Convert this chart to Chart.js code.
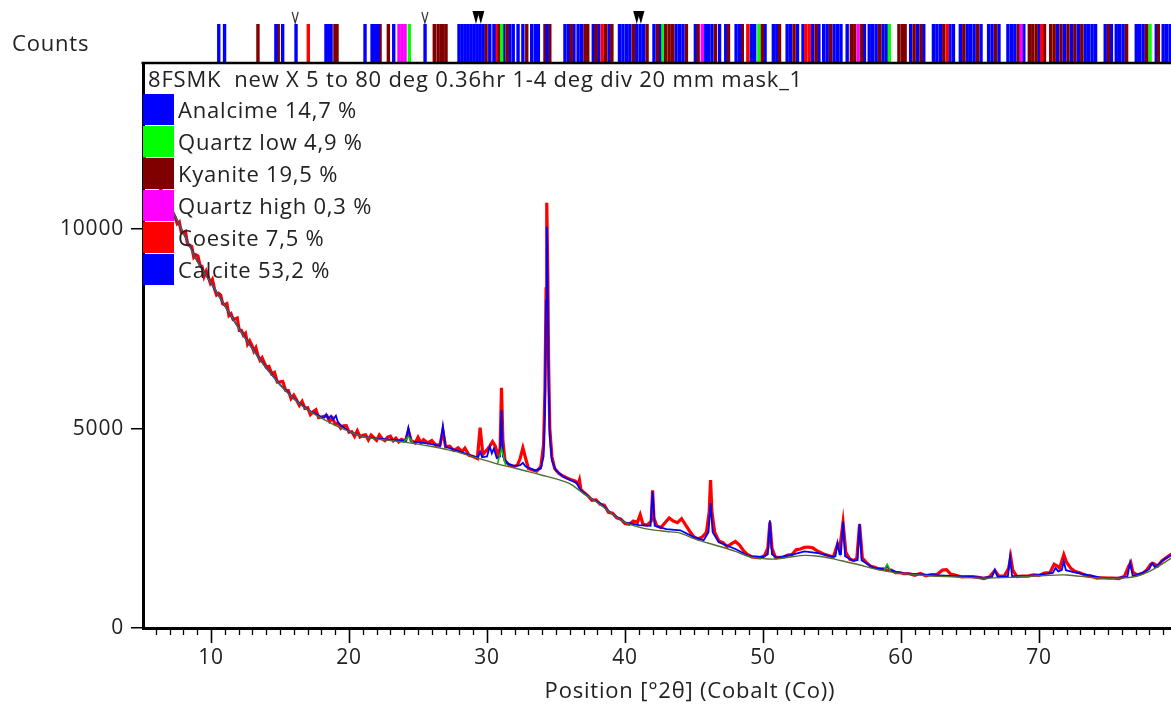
<!DOCTYPE html>
<html>
<head>
<meta charset="utf-8">
<title>8FSMK XRD</title>
<script src="https://cdn.jsdelivr.net/npm/chart.js@4.4.0/dist/chart.umd.min.js"></script>
<style>
  html, body { margin: 0; padding: 0; background: #fff; overflow: hidden; }
  #wrap { width: 1171px; height: 706px; overflow: hidden; }
</style>
</head>
<body>
<div id="wrap"><canvas id="xrd" width="1237" height="706"></canvas></div>
<script>
// Observed pattern (red)
const obsX = [5.0,5.3,5.6,5.9,6.2,6.5,6.8,7.1,7.4,7.55,7.7,7.85,8.0,8.15,8.3,8.45,8.6,8.75,8.9,9.05,9.2,9.35,9.5,9.65,9.8,9.95,10.1,10.25,10.4,10.55,10.7,10.85,11.0,11.15,11.3,11.45,11.6,11.75,11.9,12.05,12.2,12.35,12.5,12.65,12.8,12.95,13.1,13.25,13.4,13.55,13.7,13.85,14.0,14.2,14.4,14.6,14.8,15.0,15.2,15.4,15.6,15.8,16.0,16.2,16.4,16.6,16.8,17.0,17.2,17.4,17.6,17.8,18.0,18.2,18.4,18.6,18.8,19.0,19.2,19.4,19.6,19.8,20.0,20.2,20.4,20.6,20.8,21.0,21.2,21.4,21.6,21.8,22.0,22.2,22.4,22.6,22.8,23.0,23.2,23.4,23.6,23.8,24.1,24.3,24.5,24.8,25.0,25.2,25.4,25.7,26.0,26.3,26.6,26.8,27.0,27.3,27.6,27.9,28.2,28.4,28.7,29.0,29.3,29.5,29.7,30.0,30.2,30.4,30.6,30.8,30.95,31.05,31.15,31.3,31.6,31.9,32.2,32.4,32.6,32.8,33.0,33.3,33.6,33.9,34.1,34.2,34.28,34.33,34.4,34.47,34.55,34.7,34.9,35.2,35.5,35.8,36.1,36.4,36.6,36.7,36.8,37.0,37.3,37.6,37.9,38.2,38.5,38.8,39.1,39.4,39.7,40.0,40.3,40.6,40.9,41.1,41.3,41.6,41.9,42.0,42.1,42.3,42.6,42.9,43.2,43.5,43.8,44.1,44.4,44.7,45.0,45.3,45.6,45.9,46.1,46.2,46.3,46.5,46.8,47.1,47.4,47.7,48.0,48.3,48.6,48.9,49.2,49.5,49.8,50.1,50.35,50.5,50.65,50.9,51.2,51.5,51.8,52.1,52.4,52.7,53.0,53.3,53.6,53.9,54.2,54.5,54.8,55.1,55.4,55.55,55.8,56.0,56.3,56.6,56.8,57.0,57.2,57.5,57.8,58.1,58.4,58.7,59.0,59.3,59.6,59.9,60.2,60.6,61.0,61.4,61.8,62.2,62.6,63.0,63.3,63.6,64.0,64.4,64.8,65.2,65.6,66.0,66.4,66.8,67.1,67.5,67.8,67.95,68.1,68.4,68.8,69.2,69.6,70.0,70.4,70.8,71.1,71.3,71.5,71.8,72.0,72.3,72.6,73.0,73.4,73.8,74.2,74.6,75.0,75.4,75.8,76.2,76.5,76.65,76.8,77.1,77.5,77.8,78.1,78.3,78.6,78.9,79.2,79.6,80.0];
const obsY = [11900,11700,11500,11300,11100,10900,10700,10500,10300,10135,10180,9915,9900,9937,9614,9591,9568,9296,9355,9324,9103,9063,8813,8944,8805,8647,8739,8502,8346,8390,8345,8121,8107,8134,7832,7880,7739,7749,7770,7461,7463,7336,7390,7115,7200,7096,6943,7031,6830,6710,6780,6661,6543,6560,6370,6410,6165,6170,6180,5960,5955,5750,5840,5715,5580,5680,5505,5525,5350,5420,5470,5275,5290,5310,5320,5180,5260,5110,5140,5010,5070,5075,4910,4920,4805,4945,4790,4830,4845,4715,4835,4770,4705,4840,4745,4700,4785,4810,4695,4760,4665,4730,4690,4950,4700,4640,4780,4650,4720,4640,4700,4580,4600,4950,4540,4560,4450,4520,4420,4510,4330,4300,4250,5020,4350,4470,4560,4675,4560,4330,4500,6020,4700,4200,4090,4050,4080,4250,4515,4250,4000,3960,3930,4050,4600,6000,8500,10660,9000,6500,5000,4300,4000,3880,3810,3760,3720,3680,3600,3710,3480,3400,3320,3200,3210,3100,3080,2900,2880,2760,2730,2620,2600,2680,2650,2840,2600,2580,2680,3450,2750,2560,2520,2640,2760,2680,2640,2740,2580,2420,2280,2230,2280,2400,2900,3710,2900,2400,2180,2140,2040,2110,2170,2080,1930,1840,1780,1770,1760,1810,2000,2650,2000,1770,1770,1780,1830,1840,1960,1980,2020,2030,2010,1940,1890,1840,1810,1780,2100,1950,2650,1900,1720,1690,1750,2600,1750,1640,1550,1520,1480,1480,1450,1450,1390,1390,1360,1360,1320,1370,1310,1340,1340,1450,1460,1350,1320,1280,1290,1290,1270,1240,1280,1440,1300,1310,1500,1780,1450,1290,1300,1300,1330,1320,1380,1390,1600,1560,1500,1840,1650,1500,1420,1380,1320,1300,1250,1260,1250,1250,1240,1300,1550,1640,1400,1330,1370,1450,1600,1620,1550,1680,1760,1850,1950];

// Calculated profile (blue)
const calcX = [5,6,7,8,9,10,11,12,13,14,15,16,17,18,18.2,18.35,18.5,18.7,18.85,19.05,19.2,19.5,20,21,22,23,24.1,24.3,24.5,25,26,26.6,26.8,27,28,29,29.35,29.5,29.65,30,30.2,30.35,30.5,30.7,30.95,31.05,31.15,31.5,32,32.4,32.6,32.8,33.5,33.9,34.1,34.2,34.28,34.33,34.4,34.47,34.55,34.7,35,35.5,36,36.5,36.7,36.9,37.5,38.2,39,40,41,41.85,42,42.15,43,44,45,45.7,46.05,46.2,46.35,46.8,48,49,50,50.35,50.5,50.65,51,52,53,54,55,55.25,55.4,55.55,55.65,55.8,55.95,56.5,56.85,57,57.15,57.5,58,58.8,59,59.2,60,62,64,66,66.6,66.8,67,67.75,67.9,68.05,69,70,71,71.2,71.4,71.65,71.8,71.95,72.5,73.5,74.5,75.5,76.4,76.6,76.8,77.5,78,78.2,78.4,79,79.6,80];
const calcY = [11900,11250,10600,9900,9200,8650,8080,7520,7000,6520,6100,5750,5470,5290,5270,5360,5250,5320,5230,5320,5150,5060,4930,4800,4750,4720,4690,5020,4680,4660,4610,4560,5070,4540,4430,4300,4280,4420,4280,4300,4550,4380,4500,4260,4300,5460,4300,4120,4060,4080,4140,4050,3950,4000,4300,5500,8200,10060,8400,6000,4800,4200,3950,3800,3710,3640,3500,3420,3260,3130,2880,2650,2580,2560,3420,2560,2480,2450,2280,2200,2400,3130,2400,2150,1980,1800,1780,1850,2700,1850,1760,1830,1920,1880,1790,1800,2130,1850,1850,2670,1800,1690,1700,2610,1700,1620,1510,1470,1560,1450,1375,1330,1300,1260,1280,1460,1280,1300,1790,1300,1300,1330,1380,1500,1420,1450,1670,1450,1400,1330,1260,1255,1280,1640,1300,1380,1480,1630,1520,1700,1835,1930];

// Background (dark)
const bgX = [5,6,7,8,9,10,11,12,13,14,15,16,17,18,19,20,21,22,23,24,25,26,27,28,29,30,31,32,33,34,35,36,37,38,39,40,41,42,43,44,45,46,47,48,49,50,51,52,53,54,55,56,57,58,59,60,62,64,66,68,70,72,74,76,77,78,79,80];
const bgY = [11900,11250,10600,9900,9200,8650,8080,7520,7000,6520,6100,5750,5470,5260,5080,4930,4800,4740,4700,4660,4610,4550,4480,4400,4290,4190,4090,4010,3920,3830,3740,3620,3370,3150,2880,2650,2530,2460,2420,2380,2240,2130,2030,1920,1790,1740,1730,1780,1820,1800,1740,1660,1580,1490,1420,1370,1310,1280,1250,1270,1310,1330,1260,1250,1290,1420,1620,1850];

// Quartz low phase profile (green), null breaks the line
const qlowX = [23.95,24.3,24.65,24.7,30.75,31.05,31.35,31.4,58.75,59.0,59.25];
const qlowY = [4650,4800,4640,null,4100,4500,4080,null,1430,1600,1410];

// Axis ranges and ticks
const xMin = 5.07, xMax = 84.35;
const yMin = 0, yMax = 14165;
const xTicks = [10, 20, 30, 40, 50, 60, 70];
const yTicks = [0, 5000, 10000];

// Legend
const sampleTitle = '8FSMK  new X 5 to 80 deg 0.36hr 1-4 deg div 20 mm mask_1';
const phaseNames = ['Analcime 14,7 %', 'Quartz low 4,9 %', 'Kyanite 19,5 %', 'Quartz high 0,3 %', 'Coesite 7,5 %', 'Calcite 53,2 %'];
const phaseColors = ['#0000ff', '#00ff00', '#800000', '#ff00ff', '#ff0000', '#0000ff'];

// Reference peak positions per phase (top strip)
const analcimeSticks = [10.56,10.98,15.19,18.33,18.7,21.16,21.67,21.96,23.24,27.97,28.41,28.84,29.28,30.2,31.2,31.65,32.25,33.24,33.5,35.65,35.9,36.3,37.7,38.1,38.85,39.6,40.1,40.35,41.1,41.35,42.55,43.7,43.95,45.1,45.85,46.3,46.85,47.3,48.05,49.15,49.4,50.15,51.0,51.75,52.0,52.5,52.9,53.6,54.05,54.4,55.15,55.65,56.1,57.35,57.7,58.2,58.7,58.95,60.7,61.2,61.65,62.35,62.85,63.55,63.8,64.3,64.8,65.3,65.8,66.35,67.1,67.75,68.25,68.9,70.05,71.35,72.35,72.85,73.35,73.6,74.1,74.8,75.25,75.6,76.1,77.05,77.55,78.5,79.0,79.5];
const quartzLowSticks = [24.37,31.06,42.75,49.7,59.15,78.05];
const kyaniteSticks = [13.4,14.87,18.98,19.13,22.25,22.85,26.18,26.45,26.67,26.81,27.03,29.93,30.82,31.45,32.88,34.2,34.55,36.1,37.1,37.3,37.9,38.6,39.05,40.6,41.6,42.35,42.95,43.2,43.45,44.45,45.3,46.55,47.5,48.5,49.95,51.2,52.25,53.85,54.9,56.4,56.65,57.15,58.45,59.85,60.1,60.3,60.95,61.45,63.1,64.55,65.55,66.85,68.5,69.3,69.55,69.8,70.4,70.85,71.1,71.6,72.1,72.6,73.1,75.05,76.35,77.8,78.65];
const quartzHighSticks = [23.62,23.84,24.06,45.6,56.9,68.7];
const coesiteSticks = [17.05,30.65,38.35,48.9,53.1,53.35,63.35,70.2];
const calciteSticks = [14.7,16.16,18.53,21.8,22.1,25.51,28.19,28.62,29.06,29.49,29.71,30.5,31.9,32.6,33.72,34.35,36.6,36.85,39.85,40.85,42.1,44.2,46.05,48.3,50.75,54.65,55.4,57.95,62.6,65.05,66.6,68.0,71.85,73.85,75.85,77.3,79.25];
const phaseSticks = [analcimeSticks, quartzLowSticks, kyaniteSticks, quartzHighSticks, coesiteSticks, calciteSticks];

// Peak search markers above the strip
const openMarks = [16.1, 25.5];
const solidMarks = [29.2, 29.55, 40.85, 41.15];

const FONT = '"Open Sans", "DejaVu Sans", sans-serif';
const TEXT = '#222';

function toPts(xs, ys) {
  return xs.map((x, i) => ({ x: x, y: ys[i] }));
}

// draws the extra bits HighScore puts round the plot
const xrdExtras = {
  id: 'xrdExtras',
  beforeDraw(chart) {
    chart.ctx.letterSpacing = '0.8px';
  },
  afterDraw(chart) {
    const c = chart.ctx;
    const area = chart.chartArea;
    const xs = chart.scales.x;
    c.save();

    // x ticks, long every 10, short every 1
    c.strokeStyle = '#000';
    for (let v = Math.ceil(xMin); v <= Math.floor(xMax); v++) {
      const px = Math.round(xs.getPixelForValue(v)) + 0.5;
      const len = v % 10 === 0 ? 15 : 7;
      c.lineWidth = v % 10 === 0 ? 1.6 : 1.3;
      c.beginPath();
      c.moveTo(px, area.bottom);
      c.lineTo(px, area.bottom + len);
      c.stroke();
    }

    // stick strip
    const stripTop = 24, stripBottom = area.top - 1;
    c.lineWidth = 3.4;
    phaseSticks.forEach((list, i) => {
      c.strokeStyle = phaseColors[i];
      list.forEach(pos => {
        const px = xs.getPixelForValue(pos);
        if (px < area.left || px > chart.width) return;
        c.beginPath();
        c.moveTo(px, stripTop);
        c.lineTo(px, stripBottom);
        c.stroke();
      });
    });

    // frame top
    c.strokeStyle = '#000';
    c.lineWidth = 2.5;
    c.beginPath();
    c.moveTo(area.left - 1.5, area.top);
    c.lineTo(area.right, area.top);
    c.stroke();

    // peak markers
    c.lineWidth = 1.2;
    c.strokeStyle = '#333';
    openMarks.forEach(pos => {
      const px = xs.getPixelForValue(pos);
      c.beginPath();
      c.moveTo(px - 3, 12);
      c.lineTo(px, 23);
      c.lineTo(px + 3, 12);
      c.stroke();
    });
    c.fillStyle = '#000';
    solidMarks.forEach(pos => {
      const px = xs.getPixelForValue(pos);
      c.beginPath();
      c.moveTo(px - 3.5, 11);
      c.lineTo(px + 3.5, 11);
      c.lineTo(px, 24);
      c.closePath();
      c.fill();
    });

    // legend block
    c.fillStyle = TEXT;
    c.font = '22px ' + FONT;
    c.textBaseline = 'alphabetic';
    c.textAlign = 'left';
    c.fillText(sampleTitle, area.left + 5, area.top + 24);
    phaseNames.forEach((name, i) => {
      const top = area.top + 31 + i * 32;
      c.fillStyle = phaseColors[i];
      c.fillRect(area.left, top, 31, 31);
      c.fillStyle = TEXT;
      c.fillText(name, area.left + 35, top + 24);
    });

    // y title sits top left
    c.font = '22px ' + FONT;
    c.textBaseline = 'middle';
    c.fillText('Counts', 12, 45);
    c.restore();
    c.letterSpacing = '0px';
  }
};

const ctx = document.getElementById('xrd').getContext('2d');
const xrdChart = new Chart(ctx, {
  type: 'line',
  data: {
    datasets: [
      { label: 'Background', data: toPts(bgX, bgY), borderColor: '#556b2f', borderWidth: 1.4, pointRadius: 0, tension: 0.3 },
      { label: 'Quartz low', data: toPts(qlowX, qlowY), borderColor: '#00c000', borderWidth: 1.5, pointRadius: 0, spanGaps: false },
      { label: 'Calculated', data: toPts(calcX, calcY), borderColor: '#0000ff', borderWidth: 1.8, pointRadius: 0 },
      { label: 'Observed', data: toPts(obsX, obsY), borderColor: '#ff0000', borderWidth: 3.2, pointRadius: 0 }
    ]
  },
  options: {
    responsive: false,
    animation: false,
    layout: { padding: { top: 63, left: 0, right: 0, bottom: 0 } },
    plugins: { legend: { display: false }, tooltip: { enabled: false } },
    scales: {
      x: {
        type: 'linear',
        min: xMin,
        max: xMax,
        afterFit: s => { s.height = 78; },
        afterBuildTicks: s => { s.ticks = xTicks.map(v => ({ value: v })); },
        ticks: { padding: 17, color: TEXT, font: { family: FONT, size: 21 }, maxRotation: 0, autoSkip: false, callback: v => String(v) },
        grid: { drawOnChartArea: false, drawTicks: false },
        border: { display: true, color: '#000', width: 3 },
        title: { display: true, text: 'Position [°2θ] (Cobalt (Co))', color: TEXT, font: { family: FONT, size: 22 }, padding: { top: 0, bottom: 1 } }
      },
      y: {
        min: yMin,
        max: yMax,
        afterFit: s => { s.width = 143; },
        afterBuildTicks: s => { s.ticks = yTicks.map(v => ({ value: v })); },
        ticks: { padding: 7, color: TEXT, font: { family: FONT, size: 21 }, autoSkip: false, callback: v => String(v) },
        grid: { drawOnChartArea: false, tickLength: 12, color: '#000', lineWidth: 1.5 },
        border: { display: true, color: '#000', width: 3 }
      }
    }
  },
  plugins: [xrdExtras]
});
</script>
</body>
</html>
